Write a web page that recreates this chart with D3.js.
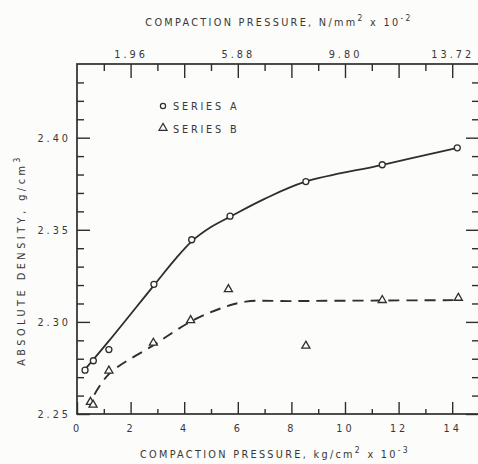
<!DOCTYPE html>
<html><head><meta charset="utf-8">
<script src="https://cdn.jsdelivr.net/npm/d3@7"></script>
<style>
html,body{margin:0;padding:0;background:#fcfcfa;}
svg{display:block;}
text{font-family:"DejaVu Sans Condensed","DejaVu Sans",sans-serif;fill:#383838;}
</style></head><body>
<svg id="c" width="478" height="464"></svg>
<script>
// ---- data ----
const seriesA_x = [0.30, 0.61, 1.19, 2.87, 4.28, 5.71, 8.54, 11.39, 14.19];
const seriesA_y = [2.2738, 2.2789, 2.2850, 2.3204, 2.3446, 2.3574, 2.3762, 2.3853, 2.3945];
const seriesB_x = [0.50, 0.60, 1.19, 2.85, 4.24, 5.65, 8.54, 11.39, 14.23];
const seriesB_y = [2.2565, 2.2550, 2.2735, 2.2886, 2.3009, 2.3177, 2.2870, 2.3118, 2.3130];
// fitted curves drawn on the chart
const curveA_x = [0.30, 1.20, 2.90, 3.70, 4.30, 5.00, 5.75, 7.00, 8.50, 11.40, 14.20];
const curveA_y = [2.2742, 2.2898, 2.3204, 2.3346, 2.3440, 2.3515, 2.3574, 2.3668, 2.3760, 2.3853, 2.3945];
const curveB_x = [0.65, 1.20, 2.90, 4.25, 5.30, 6.30, 8.00, 11.30, 14.10];
const curveB_y = [2.2605, 2.2718, 2.2878, 2.3002, 2.3070, 2.3110, 2.3113, 2.3116, 2.3118];
const xMajor = [0, 2, 4, 6, 8, 10, 12, 14];
const xMinor = [1, 3, 5, 7, 9, 11, 13];
const yMajor = [2.25, 2.30, 2.35, 2.40];
const yMinor = [2.26, 2.27, 2.28, 2.29, 2.31, 2.32, 2.33, 2.34, 2.36, 2.37, 2.38, 2.39, 2.41, 2.42, 2.43];
const topTicks = [2, 6, 10, 14];
const topLabels = ["1.96", "5.88", "9.80", "13.72"];
const legendLabels = ["SERIES A", "SERIES B"];

// ---- layout ----
const svg = d3.select("#c");
const L = 77, R = 479, T = 64, B = 414;
const x = d3.scaleLinear().domain([0, 15]).range([L, R]);
const y = d3.scaleLinear().domain([2.25, 2.44]).range([B, T]);
const ink = "#2e2e2e";
const FS = 10.8;

function styleAxis(g){
  g.select(".domain").remove();
  g.selectAll("line").attr("stroke", ink).attr("stroke-width", 1.4);
  g.selectAll("text").attr("font-size", FS).attr("letter-spacing", "3px")
    .style("font-family", '"DejaVu Sans Condensed","DejaVu Sans",sans-serif').attr("fill", "#383838");
}

// frame
svg.append("rect").attr("x", L).attr("y", T).attr("width", R - L).attr("height", B - T)
  .attr("fill", "none").attr("stroke", ink).attr("stroke-width", 1.7);

// bottom axis
svg.append("g").attr("transform", `translate(0,${B})`)
  .call(d3.axisBottom(x).tickValues(xMajor).tickFormat(d3.format("d")).tickSize(-12).tickPadding(10)).call(styleAxis);
svg.append("g").attr("transform", `translate(0,${B})`)
  .call(d3.axisBottom(x).tickValues(xMinor).tickFormat("").tickSize(-5)).call(styleAxis);

// top axis
svg.append("g").attr("transform", `translate(0,${T})`)
  .call(d3.axisTop(x).tickValues(topTicks).tickFormat((d, i) => topLabels[i]).tickSize(-14).tickPadding(6)).call(styleAxis);
svg.append("g").attr("transform", `translate(0,${T})`)
  .call(d3.axisTop(x).tickValues([4, 8, 12]).tickFormat("").tickSize(-14)).call(styleAxis);
svg.append("g").attr("transform", `translate(0,${T})`)
  .call(d3.axisTop(x).tickValues(xMinor).tickFormat("").tickSize(-7)).call(styleAxis);

// left axis
svg.append("g").attr("transform", `translate(${L},0)`)
  .call(d3.axisLeft(y).tickValues(yMajor).tickFormat(d3.format(".2f")).tickSize(-13).tickPadding(6)).call(styleAxis);
svg.append("g").attr("transform", `translate(${L},0)`)
  .call(d3.axisLeft(y).tickValues(yMinor).tickFormat("").tickSize(-7)).call(styleAxis);
// right axis
svg.append("g").attr("transform", `translate(${R},0)`)
  .call(d3.axisRight(y).tickValues(yMajor).tickFormat("").tickSize(-13)).call(styleAxis);
svg.append("g").attr("transform", `translate(${R},0)`)
  .call(d3.axisRight(y).tickValues(yMinor).tickFormat("").tickSize(-7)).call(styleAxis);

// curves
const line = d3.line().x(d => x(d[0])).y(d => y(d[1])).curve(d3.curveCatmullRom.alpha(0.5));
svg.append("path").datum(curveA_x.map((v, i) => [v, curveA_y[i]]))
  .attr("d", line).attr("fill", "none").attr("stroke", ink).attr("stroke-width", 1.8);
svg.append("path").datum(curveB_x.map((v, i) => [v, curveB_y[i]]))
  .attr("d", line).attr("fill", "none").attr("stroke", ink).attr("stroke-width", 1.9)
  .attr("stroke-dasharray", "11,7");

// markers
const tri = d3.symbol().type(d3.symbolTriangle).size(28);
svg.append("g").selectAll("circle").data(seriesA_x.map((v, i) => [v, seriesA_y[i]])).join("circle")
  .attr("cx", d => x(d[0])).attr("cy", d => y(d[1])).attr("r", 3)
  .attr("fill", "#fcfcfa").attr("stroke", ink).attr("stroke-width", 1.3);
svg.append("g").selectAll("path").data(seriesB_x.map((v, i) => [v, seriesB_y[i]])).join("path")
  .attr("d", tri).attr("transform", d => `translate(${x(d[0])},${y(d[1])})`)
  .attr("fill", "#fcfcfa").attr("stroke", ink).attr("stroke-width", 1.3);

// legend
const lg = svg.append("g");
lg.append("circle").attr("cx", 163).attr("cy", 106).attr("r", 2.6)
  .attr("fill", "none").attr("stroke", ink).attr("stroke-width", 1.2);
lg.append("path").attr("d", tri).attr("transform", "translate(163,128)")
  .attr("fill", "none").attr("stroke", ink).attr("stroke-width", 1.2);
legendLabels.forEach((t, i) => {
  lg.append("text").attr("x", 173).attr("y", 110 + i * 23).attr("font-size", FS)
    .attr("letter-spacing", "2.8px").text(t);
});

// titles
function title(sel, parts){
  parts.forEach(p => {
    const ts = sel.append("tspan").text(p.t);
    if (p.sup) ts.attr("dy", -5).attr("font-size", 8.5);
    if (p.down) ts.attr("dy", 5);
  });
}
const tt = svg.append("text").attr("x", 279).attr("y", 26).attr("text-anchor", "middle")
  .attr("font-size", FS).attr("letter-spacing", "2.3px");
title(tt, [{t: "COMPACTION PRESSURE, N/mm"}, {t: "2", sup: true}, {t: " x 10", down: true}, {t: "-2", sup: true}]);

const bt = svg.append("text").attr("x", 275).attr("y", 458).attr("text-anchor", "middle")
  .attr("font-size", FS).attr("letter-spacing", "2.3px");
title(bt, [{t: "COMPACTION PRESSURE, kg/cm"}, {t: "2", sup: true}, {t: " x 10", down: true}, {t: "-3", sup: true}]);

const yt = svg.append("text").attr("transform", "translate(25,260) rotate(-90)").attr("text-anchor", "middle")
  .attr("font-size", FS).attr("letter-spacing", "3.5px");
title(yt, [{t: "ABSOLUTE DENSITY, g/cm"}, {t: "3", sup: true}]);
</script>
</body></html>
